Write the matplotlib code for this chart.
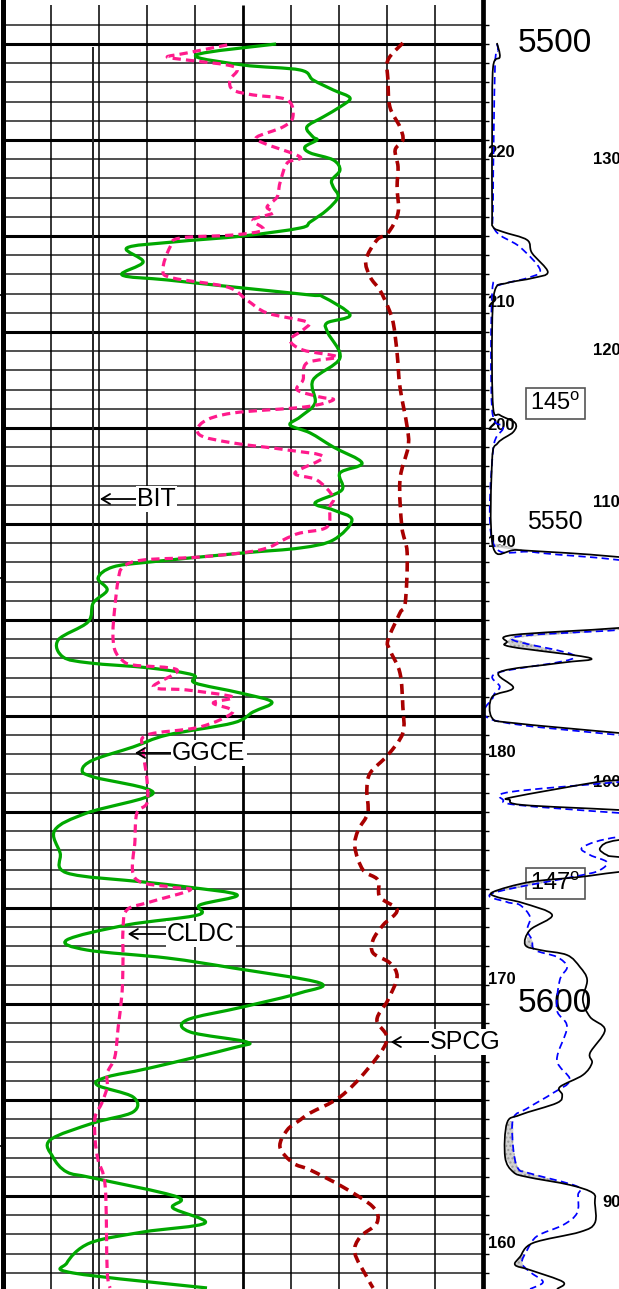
import numpy as np
import matplotlib
matplotlib.use('Agg')
import matplotlib.pyplot as plt
from matplotlib.path import Path
from matplotlib.patches import PathPatch

plt.rcParams['font.family'] = ['Liberation Sans', 'DejaVu Sans']
plt.rcParams['mathtext.fontset'] = 'custom'
plt.rcParams['mathtext.rm'] = 'Liberation Sans'

# ---------------- data (depth in ft, values in chart divisions) ----------------
green_depth = [5500.0, 5501.15, 5502.19, 5502.71, 5503.75, 5504.79, 5505.63, 5506.56, 5507.60, 5508.65,
               5509.69, 5510.0, 5510.73, 5511.35, 5512.08, 5513.13, 5514.17, 5514.90, 5515.94, 5517.29,
               5518.54, 5519.17, 5520.0, 5520.63, 5521.25, 5522.71, 5524.06, 5524.58, 5525.31, 5526.15,
               5526.35, 5528.23, 5529.06, 5530.10, 5532.71, 5535.0, 5537.40, 5538.85, 5539.69, 5540.52,
               5541.98, 5543.65, 5544.69, 5546.46, 5547.81, 5548.54, 5549.58, 5551.67, 5552.50, 5553.02,
               5553.96, 5554.48, 5555.63, 5556.88, 5558.23, 5560.21, 5562.08, 5563.85, 5564.48, 5565.0,
               5565.73, 5566.56, 5567.60, 5568.54, 5569.58, 5570.73, 5571.98, 5573.23, 5574.58, 5575.63,
               5576.35, 5578.02, 5580.10, 5581.88, 5584.27, 5586.35, 5587.29, 5587.81, 5588.65, 5589.69,
               5590.73, 5591.77, 5593.33, 5594.38, 5595.21, 5596.25, 5597.81, 5598.85, 5600.31, 5601.67,
               5602.92, 5603.96, 5604.58, 5606.67, 5607.60, 5608.44, 5609.69, 5611.25, 5612.40, 5614.17,
               5615.94, 5617.50, 5618.13, 5620.10, 5621.25, 5622.81, 5623.75, 5624.90, 5626.98, 5628.02, 5629.58]
green_val = [5.69, 4.02, 5.00, 6.19, 6.46, 6.88, 7.23, 7.02, 6.67, 6.33,
             6.46, 6.54, 6.29, 6.40, 6.88, 7.02, 6.85, 6.88, 6.98, 6.75,
             6.40, 6.19, 5.00, 3.54, 2.58, 2.92, 2.48, 3.42, 4.79, 6.40,
             6.67, 7.23, 6.75, 6.77, 7.02, 6.46, 6.50, 6.19, 5.98, 6.40,
             6.88, 7.48, 7.02, 7.06, 6.50, 6.88, 7.27, 6.88, 6.19, 5.00,
             3.06, 2.29, 1.98, 2.17, 1.88, 1.77, 1.15, 1.25, 1.81, 3.06,
             3.96, 4.00, 4.94, 5.60, 5.21, 4.79, 3.42, 2.71, 1.88, 1.65,
             1.88, 3.13, 1.75, 1.08, 1.19, 1.33, 2.92, 3.83, 4.88, 4.10,
             4.06, 2.58, 1.33, 1.75, 3.42, 4.79, 6.60, 6.19, 5.00, 3.83,
             3.90, 5.08, 4.79, 3.06, 2.17, 1.96, 2.71, 2.71, 1.88, 0.98,
             1.04, 1.33, 1.88, 3.63, 3.54, 4.21, 2.92, 1.81, 1.33, 1.46, 4.25]

pink_depth = [5500.1, 5500.94, 5501.35, 5501.67, 5502.19, 5502.71, 5503.75, 5504.79, 5505.31, 5505.83,
              5507.60, 5508.65, 5509.69, 5510.31, 5511.77, 5512.40, 5514.48, 5515.94, 5516.98, 5517.60,
              5518.33, 5519.38, 5519.90, 5520.21, 5521.15, 5523.54, 5524.38, 5525.31, 5526.67, 5528.02,
              5528.96, 5529.79, 5530.83, 5531.88, 5532.60, 5533.23, 5535.0, 5536.04, 5536.77, 5537.08,
              5537.81, 5538.44, 5539.38, 5540.73, 5541.56, 5542.29, 5543.02, 5544.69, 5545.42, 5547.19,
              5548.23, 5550.31, 5550.94, 5551.46, 5552.71, 5553.44, 5553.75, 5554.48, 5555.83, 5558.65,
              5561.35, 5563.13, 5564.17, 5564.69, 5565.21, 5566.98, 5567.29, 5568.02, 5568.65, 5569.58,
              5571.15, 5571.98, 5573.54, 5576.67, 5579.06, 5580.10, 5582.92, 5586.88, 5587.81, 5588.13,
              5589.38, 5590.21, 5592.29, 5595.42, 5598.85, 5602.40, 5605.52, 5607.19, 5608.65, 5610.31,
              5611.77, 5614.17, 5616.25, 5619.06, 5627.71, 5629.58]
pink_val = [4.67, 3.83, 3.42, 3.83, 4.67, 4.88, 4.73, 4.79, 5.21, 5.92,
            6.04, 5.83, 5.29, 5.42, 6.19, 5.92, 5.77, 5.71, 5.50, 5.63,
            5.21, 5.42, 4.79, 3.69, 3.48, 3.33, 3.54, 4.67, 5.08, 5.50,
            6.33, 6.25, 5.98, 6.25, 6.96, 6.33, 6.25, 6.13, 6.60, 6.88,
            6.29, 4.79, 4.17, 4.10, 4.79, 5.92, 6.67, 6.08, 6.54, 6.88,
            6.81, 6.75, 6.19, 5.92, 5.35, 4.10, 2.92, 2.50, 2.40, 2.33,
            2.29, 2.33, 2.48, 2.71, 3.63, 3.13, 3.83, 4.79, 4.38, 4.79,
            4.10, 3.00, 2.92, 3.00, 3.00, 2.79, 2.75, 2.75, 3.48, 3.90,
            3.06, 2.58, 2.50, 2.50, 2.48, 2.40, 2.33, 2.17, 2.17, 2.06,
            1.92, 1.92, 1.98, 2.13, 2.17, 2.23]

spcg_depth = [5499.9, 5501.67, 5503.75, 5506.56, 5508.65, 5510.0, 5511.04, 5512.81, 5514.90, 5517.60,
              5519.69, 5520.42, 5522.50, 5524.27, 5525.63, 5527.40, 5529.06, 5532.19, 5535.73, 5539.90,
              5541.98, 5545.42, 5550.31, 5553.02, 5558.23, 5559.27, 5562.08, 5563.13, 5565.52, 5569.06,
              5571.77, 5574.06, 5575.94, 5577.71, 5580.10, 5581.88, 5583.65, 5586.04, 5587.08, 5588.85,
              5590.21, 5591.77, 5593.33, 5594.69, 5595.73, 5597.19, 5599.58, 5601.67, 5603.75, 5606.88,
              5609.69, 5611.35, 5612.08, 5613.13, 5614.90, 5616.56, 5617.29, 5619.06, 5621.15, 5622.81,
              5624.27, 5625.94, 5628.44, 5629.58]
spcg_val = [8.33, 8.02, 8.02, 8.06, 8.27, 8.33, 8.17, 8.23, 8.21, 8.23,
            8.02, 7.79, 7.56, 7.65, 7.85, 8.02, 8.13, 8.21, 8.27, 8.42,
            8.44, 8.27, 8.31, 8.42, 8.38, 8.27, 8.02, 8.06, 8.27, 8.33,
            8.33, 8.02, 7.65, 7.58, 7.60, 7.40, 7.33, 7.50, 7.81, 7.85,
            8.21, 7.92, 7.71, 7.71, 8.06, 8.21, 8.02, 7.79, 8.00, 7.58,
            7.02, 6.40, 6.19, 5.92, 5.77, 6.04, 6.40, 7.08, 7.71, 7.79,
            7.44, 7.33, 7.58, 7.71]

# right track: black solid and blue dashed curves
black_depth = [5499.9, 5501.35, 5502.40, 5509.27, 5517.60, 5519.06, 5519.58, 5520.42, 5521.77, 5523.75,
               5524.38, 5524.90, 5525.63, 5529.79, 5537.81, 5538.65, 5539.48, 5540.42, 5541.56, 5543.33,
               5552.40, 5552.71, 5553.02, 5553.44, 5554.27, 5560.0, 5560.83, 5561.56, 5562.29, 5562.81,
               5563.96, 5564.48, 5565.42, 5567.08, 5568.02, 5570.21, 5570.73, 5571.77, 5572.5, 5575.83,
               5576.67, 5576.88, 5578.44, 5578.75, 5579.27, 5579.79, 5580.3, 5582.4, 5582.92, 5583.75,
               5584.48, 5584.69, 5585.4, 5586.25, 5586.77, 5587.29, 5588.33, 5588.85, 5589.48, 5590.73,
               5592.29, 5593.85, 5594.38, 5594.90, 5596.15, 5597.50, 5599.58, 5601.35, 5602.71, 5605.10,
               5606.15, 5607.40, 5608.65, 5609.48, 5610.31, 5611.56, 5612.40, 5615.94, 5617.50, 5618.02,
               5618.85, 5619.69, 5620.73, 5622.81, 5623.75, 5624.90, 5626.35, 5627.19, 5627.71, 5628.96, 5629.69]
black_val = [0.29, 0.35, 0.21, 0.19, 0.19, 0.21, 0.42, 0.92, 1.02, 1.35,
             1.04, 0.50, 0.25, 0.19, 0.21, 0.35, 0.67, 0.63, 0.31, 0.19,
             0.21, 0.71, 1.75, 2.83, 4.5, 4.5, 2.83, 0.63, 0.50, 0.60,
             2.23, 1.60, 0.35, 0.63, 0.19, 0.19, 0.63, 2.83, 4.5, 4.5,
             2.83, 2.38, 0.63, 0.56, 0.83, 2.83, 4.5, 4.5, 2.83, 2.44,
             2.58, 2.83, 4.5, 2.83, 2.02, 0.98, 0.21, 0.29, 0.83, 1.44,
             0.98, 0.88, 1.19, 1.75, 2.02, 2.17, 2.08, 2.23, 2.54, 2.23,
             2.27, 2.08, 1.60, 1.65, 1.54, 0.77, 0.50, 0.46, 0.63, 0.92,
             1.81, 2.29, 2.33, 2.33, 2.02, 1.04, 0.77, 0.67, 0.98, 1.67, 1.54]

blue_depth = [5500.0, 5500.63, 5502.40, 5516.25, 5519.38, 5521.15, 5523.54, 5524.38, 5525.10, 5525.94,
              5538.13, 5539.90, 5542.29, 5551.98, 5552.92, 5553.54, 5553.75, 5554.5, 5560.2, 5561.04,
              5561.88, 5563.85, 5565.52, 5566.98, 5568.02, 5570.42, 5571.98, 5572.7, 5576.15, 5576.88,
              5577.92, 5578.75, 5579.27, 5580.10, 5580.6, 5582.1, 5582.60, 5583.65, 5584.48, 5585.21,
              5586.04, 5586.56, 5588.44, 5589.38, 5589.69, 5590.94, 5592.29, 5593.33, 5594.38, 5595.10,
              5596.15, 5597.50, 5600.63, 5602.40, 5605.83, 5607.92, 5609.27, 5610.88, 5611.92, 5615.04,
              5617.13, 5617.65, 5619.0, 5619.90, 5621.77, 5623.02, 5624.17, 5625.63, 5626.98, 5627.92,
              5628.96, 5629.69]
blue_val = [0.29, 0.31, 0.25, 0.21, 0.25, 0.77, 1.19, 0.92, 0.35, 0.19,
            0.19, 0.42, 0.21, 0.21, 1.04, 2.44, 2.83, 4.5, 4.5, 2.83,
            0.60, 1.92, 0.29, 0.35, 0.21, 0.21, 2.83, 4.5, 4.5, 2.83,
            0.56, 0.42, 0.71, 2.83, 4.5, 4.5, 2.83, 2.08, 2.23, 2.58,
            2.44, 2.08, 0.21, 0.50, 0.77, 0.98, 0.92, 1.02, 1.08, 1.54,
            1.75, 1.60, 1.54, 1.75, 1.54, 1.81, 1.46, 0.92, 0.63, 0.63,
            0.73, 0.98, 1.96, 1.98, 1.96, 1.67, 1.13, 0.92, 0.81, 0.98,
            1.25, 0.98]

bit_position = 1.875
depth_labels = ['5500', '5550', '5600']
depth_label_depths = [5500.0, 5549.8, 5599.95]
depth_label_sizes = [24, 18, 24]
scale_left_labels = ['220', '210', '200', '190', '180', '170', '160']
scale_left_depths = [5511.35, 5526.93, 5539.79, 5551.98, 5573.85, 5597.40, 5624.90]
scale_right_labels = ['130', '120', '110', '100', '90']
scale_right_depths = [5512.08, 5531.88, 5547.81, 5576.88, 5620.73]
temp_labels = [r'145$^{\mathrm{o}}$', r'147$^{\mathrm{o}}$']
temp_depths = [5537.45, 5587.45]
curve_labels = ['BIT', 'GGCE', 'CLDC', 'SPCG']
curve_label_tip = [(2.02, 5547.40), (2.75, 5573.85), (2.60, 5592.71), (8.08, 5603.96)]
curve_label_text_x = [2.79, 3.52, 3.42, 8.90]
edge_tick_depths = [5526.15, 5555.63, 5585.0, 5614.79]


def smooth_path(xs, ys):
    """Smooth (Catmull-Rom as cubic Bezier) path through the given points."""
    P = np.column_stack([xs, ys]).astype(float)
    P = np.vstack([P[0], P, P[-1]])
    verts = [P[1]]
    codes = [Path.MOVETO]
    for i in range(1, len(P) - 2):
        p0, p1, p2, p3 = P[i - 1], P[i], P[i + 1], P[i + 2]
        verts += [p1 + (p2 - p0) / 6.0, p2 - (p3 - p1) / 6.0, p2]
        codes += [Path.CURVE4] * 3
    return Path(verts, codes)


def draw_curve(a, xs, ys, color, lw, dashes=None, z=3):
    ls = 'solid' if dashes is None else (0, dashes)
    patch = PathPatch(smooth_path(xs, ys), fill=False, edgecolor=color, lw=lw,
                      linestyle=ls, zorder=z, capstyle='butt', joinstyle='round')
    a.add_patch(patch)


# ---------------- figure ----------------
W, H = 619, 1289
TOP, BOT = 5495.42, 5629.69
GRID_TOP = 5495.94
fig = plt.figure(figsize=(W / 100, H / 100), dpi=100)
ax = fig.add_axes([3 / W, 0, 480 / W, 1])
ax2 = fig.add_axes([483 / W, 0, 136 / W, 1])
ax.set_zorder(3)
ax2.set_zorder(1)
ax2.patch.set_visible(False)

for a in (ax, ax2):
    a.set_ylim(BOT, TOP)
ax.set_xlim(0, 10)
ax2.set_xlim(0, 136 / 48)

# grid
minor = [d for d in range(5498, 5630, 2) if d % 10 != 0]
major = list(range(5500, 5630, 10))
ax.hlines(minor, 0, 10, colors='#3a3a3a', lw=1.25, zorder=1)
ax.hlines(major, 0, 10, colors='black', lw=2.2, zorder=1)
vx = [1, 2, 3, 4, 6, 7, 8, 9]
ax.vlines(vx, GRID_TOP, BOT, colors='black', lw=1.1, zorder=1)
ax.vlines([5], GRID_TOP, BOT, colors='black', lw=2.0, zorder=1)
ax.vlines([bit_position], 5500.3, BOT, colors='#222222', lw=1.4, zorder=1)

for s in ('top', 'bottom'):
    ax.spines[s].set_visible(False)
ax.spines['left'].set_linewidth(3.6)
ax.spines['right'].set_linewidth(3.4)
ax.set_xticks([])
ax.set_yticks(edge_tick_depths)
ax.tick_params(axis='y', direction='out', length=3, width=1.2, labelleft=False)

for s in ax2.spines.values():
    s.set_visible(False)
ax2.set_xticks([])
ax2.set_yticks(list(range(5498, 5630, 2)))
ax2.tick_params(axis='y', direction='in', length=4, width=1.0, labelleft=False)

# left track curves
draw_curve(ax, green_val, green_depth, '#00a800', 2.3, None, 4)
draw_curve(ax, pink_val, pink_depth, '#ff1a8c', 2.3, (2.6, 1.6), 5)
draw_curve(ax, spcg_val, spcg_depth, '#a80000', 2.6, (2.8, 1.7), 5)

# right track curves
grid_d = np.linspace(5500, BOT, 3000)
bi = np.interp(grid_d, black_depth, black_val)
ui = np.interp(grid_d, blue_depth, blue_val)
ax2.fill_betweenx(grid_d, bi, ui, where=(ui - bi) > 0.06, facecolor='#cfcfcf',
                  edgecolor='#9a9a9a', hatch='....', lw=0, zorder=2)
draw_curve(ax2, blue_val, blue_depth, '#0000ff', 1.25, (4.2, 2.5), 3)
draw_curve(ax2, black_val, black_depth, 'black', 1.25, None, 4)

# depth labels
for lab, d, fs in zip(depth_labels, depth_label_depths, depth_label_sizes):
    ax2.text(1.5, d, lab, fontsize=fs, ha='center', va='center', zorder=1)
for lab, d in zip(scale_left_labels, scale_left_depths):
    ax2.text(0.1, d, lab, fontsize=12, fontweight='bold', ha='left', va='center', zorder=1)
for lab, d in zip(scale_right_labels, scale_right_depths):
    x = 2.29 if lab != '90' else 2.48
    ax2.text(x, d, lab, fontsize=12, fontweight='bold', ha='left', va='center', zorder=1, clip_on=True)
for lab, d in zip(temp_labels, temp_depths):
    ax2.text(1.51, d, lab, fontsize=17, ha='center', va='center', zorder=1,
             bbox=dict(boxstyle='square,pad=0.18', fc='white', ec='#555555', lw=1.2))

# curve name labels with arrows
for lab, tip, tx in zip(curve_labels, curve_label_tip, curve_label_text_x):
    ax.annotate(lab, xy=tip, xytext=(tx, tip[1]), fontsize=18, ha='left', va='center',
                zorder=10, annotation_clip=False,
                bbox=dict(boxstyle='square,pad=0.05', fc='white', ec='none'),
                arrowprops=dict(arrowstyle='->,head_length=0.5,head_width=0.3', lw=1.3,
                                color='black', shrinkA=0, shrinkB=0, mutation_scale=12))

fig.savefig('out.png', dpi=100)
